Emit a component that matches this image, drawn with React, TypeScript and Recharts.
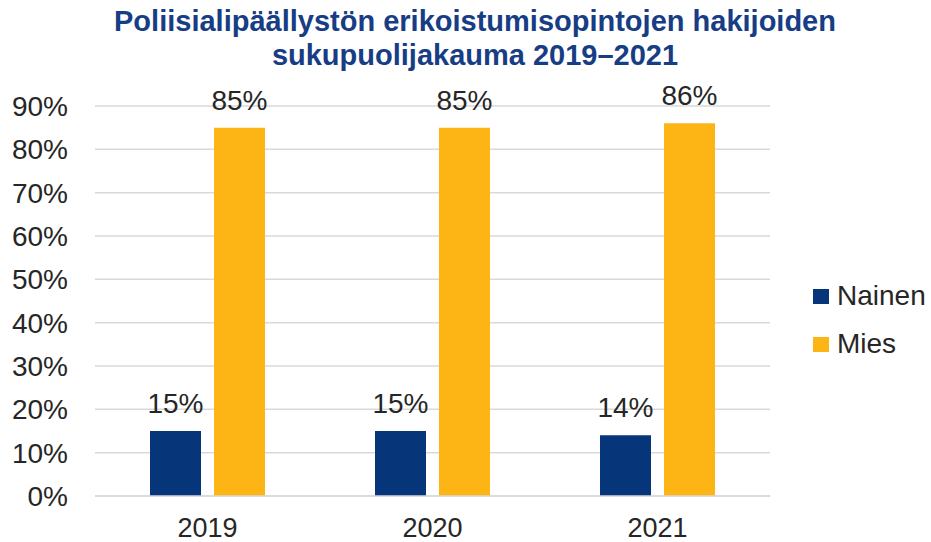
import React from 'react';
import { BarChart, Bar, XAxis, YAxis, CartesianGrid, Legend, LabelList } from 'recharts';

// Vuodet ja osuudet (%)
const years = ['2019', '2020', '2021'];
const nainen = [15, 15, 14];
const mies = [85, 85, 86];
const yTicks = [0, 10, 20, 30, 40, 50, 60, 70, 80, 90];

const series = [
  { key: 'nainen', name: 'Nainen', color: '#06357A' },
  { key: 'mies', name: 'Mies', color: '#FDB515' },
];

const data = years.map((year, i) => ({ year, nainen: nainen[i], mies: mies[i] }));

const FONT = '"Liberation Sans", Arial, sans-serif';
const TEXT = '#262626';

function LegendBox() {
  return (
    <div style={{ fontFamily: FONT, fontSize: 28, color: TEXT }}>
      {series.map((s) => (
        <div key={s.key} style={{ display: 'flex', alignItems: 'center', height: 48 }}>
          <span style={{ display: 'inline-block', width: 16, height: 15, background: s.color, marginRight: 8 }} />
          <span>{s.name}</span>
        </div>
      ))}
    </div>
  );
}

export default function App() {
  return (
    <div style={{ position: 'absolute', left: 0, top: 0, width: 931, height: 542, background: '#fff' }}>
      <div
        style={{
          position: 'absolute',
          left: 0,
          top: 4,
          width: 950,
          textAlign: 'center',
          fontFamily: FONT,
          fontWeight: 'bold',
          fontSize: 29,
          lineHeight: '34px',
          color: '#173D85',
        }}
      >
        Poliisialipäällystön erikoistumisopintojen hakijoiden
        <br />
        sukupuolijakauma 2019–2021
      </div>
      <BarChart
        width={931}
        height={542}
        data={data}
        margin={{ top: 106, right: 161, bottom: 0, left: 0 }}
        barSize={51}
        barGap={13}
      >
        <CartesianGrid vertical={false} stroke="#D9D9D9" strokeWidth={1.5} />
        <XAxis
          dataKey="year"
          height={46}
          axisLine={{ stroke: '#D9D9D9', strokeWidth: 1.5 }}
          tickLine={false}
          tickSize={0}
          tickMargin={22}
          tick={{ fill: TEXT, fontSize: 27, fontFamily: FONT }}
        />
        <YAxis
          width={95}
          domain={[0, 90]}
          ticks={yTicks}
          axisLine={false}
          tickLine={false}
          tickSize={0}
          tickMargin={27}
          tickFormatter={(v) => `${v}%`}
          tick={{ fill: TEXT, fontSize: 28, fontFamily: FONT }}
        />
        <Legend
          layout="horizontal"
          align="center"
          verticalAlign="middle"
          wrapperStyle={{ left: 813, top: 272, width: 118 }}
          content={() => <LegendBox />}
        />
        {series.map((s) => (
          <Bar key={s.key} dataKey={s.key} name={s.name} fill={s.color} isAnimationActive={false}>
            <LabelList
              dataKey={s.key}
              position="top"
              offset={18}
              formatter={(v: number) => `${v}%`}
              style={{ fill: TEXT, fontSize: 28, fontFamily: FONT }}
            />
          </Bar>
        ))}
      </BarChart>
    </div>
  );
}
